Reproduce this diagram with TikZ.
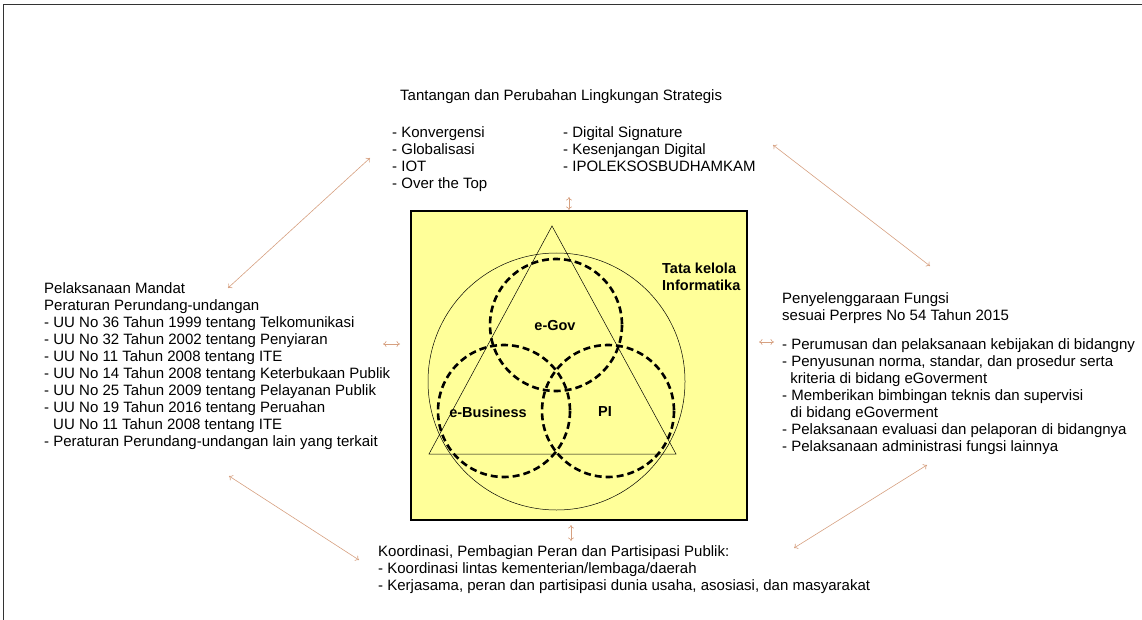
\documentclass[tikz,border=0pt]{standalone}
\usepackage{fontspec}
\setmainfont{Liberation Sans}
\usetikzlibrary{positioning,arrows.meta}
\definecolor{panel}{RGB}{255,255,153}
\definecolor{linkc}{RGB}{214,160,128}

\begin{document}
\begin{tikzpicture}[x=1pt, y=-1pt,
        txt/.style={align=left, inner sep=0pt, anchor=north west, font=\fontsize{15}{17}\selectfont},
        tag/.style={inner sep=0pt, font=\fontsize{14.5}{17}\selectfont\bfseries},
        venn/.style={draw, line width=2.6pt, dash pattern=on 7pt off 4pt},
        link/.style={{To[length=3.5pt,width=6pt]}-{To[length=3.5pt,width=6pt]}, draw=linkc, line width=0.6pt}
    ]
    \useasboundingbox (0,0) rectangle (1142,620);
    \draw[line width=1pt, black!80] (3,620) -- (3,5) -- (1142,5);

    % centre panel
    \node[draw, line width=1.2pt, fill=panel, minimum width=336pt, minimum height=309pt, inner sep=0pt] (box) at (579,365.5) {};
    \draw[line width=0.5pt] (552,226) -- (676,454) -- (429,454) -- cycle;
    \draw[line width=0.5pt] (556.5,381.5) circle (128.5);
    \draw[venn] (556,325) circle (66);
    \draw[venn] (504,411) circle (66);
    \draw[venn] (608,411) circle (66);
    \node[tag] (gov) at (555,326) {e-Gov};
    \node[tag] (bis) at (488,412) {e-Business};
    \node[tag] (pi) at (605,412) {PI};
    \node[tag, align=left, anchor=north west] (tata) at (662,263) {Tata kelola\\Informatika};

    % surrounding texts
    \node[txt] (tantangan) at (400,89) {Tantangan dan Perubahan Lingkungan Strategis};
    \node[txt] (isuA) at (392,126) {- Konvergensi\\- Globalisasi\\- IOT\\- Over the Top};
    \node[txt] (isuB) at (563,126) {- Digital Signature\\- Kesenjangan Digital\\- IPOLEKSOSBUDHAMKAM};
    \node[txt] (mandat) at (44,282) {Pelaksanaan Mandat\\Peraturan Perundang-undangan\\- UU No 36 Tahun 1999 tentang Telkomunikasi\\- UU No 32 Tahun 2002 tentang Penyiaran\\- UU No 11 Tahun 2008 tentang ITE\\- UU No 14 Tahun 2008 tentang Keterbukaan Publik\\- UU No 25 Tahun 2009 tentang Pelayanan Publik\\- UU No 19 Tahun 2016 tentang Peruahan\\\hspace*{0.6em}UU No 11 Tahun 2008 tentang ITE\\- Peraturan Perundang-undangan lain yang terkait};
    \node[txt] (fungsi) at (782,292) {Penyelenggaraan Fungsi\\sesuai Perpres No 54 Tahun 2015};
    \node[txt] (fungsilist) at (782,338) {- Perumusan dan pelaksanaan kebijakan di bidangny\\- Penyusunan norma, standar, dan prosedur serta\\\hspace*{0.55em}kriteria di bidang eGoverment\\- Memberikan bimbingan teknis dan supervisi\\\hspace*{0.55em}di bidang eGoverment\\- Pelaksanaan evaluasi dan pelaporan di bidangnya\\- Pelaksanaan administrasi fungsi lainnya};
    \node[txt] (koord) at (378,545) {Koordinasi, Pembagian Peran dan Partisipasi Publik:\\- Koordinasi lintas kementerian/lembaga/daerah\\- Kerjasama, peran dan partisipasi dunia usaha, asosiasi, dan masyarakat};

    % connectors
    \coordinate (upA) at (569,197);   \coordinate (upB) at (569,210);
    \coordinate (dnA) at (571,525);   \coordinate (dnB) at (571,541);
    \coordinate (lfA) at (383,344);   \coordinate (lfB) at (400,344);
    \coordinate (rtA) at (759,342);   \coordinate (rtB) at (774,342);
    \coordinate (tlA) at (370,158);   \coordinate (tlB) at (228,288);
    \coordinate (trA) at (773,145);   \coordinate (trB) at (930,266);
    \coordinate (blA) at (229,476);   \coordinate (blB) at (359,560);
    \coordinate (brA) at (927,465);   \coordinate (brB) at (794,548);
    \draw[link] (upA) -- (upB);
    \draw[link] (dnA) -- (dnB);
    \draw[link] (lfA) -- (lfB);
    \draw[link] (rtA) -- (rtB);
    \draw[link] (tlA) -- (tlB);
    \draw[link] (trA) -- (trB);
    \draw[link] (blA) -- (blB);
    \draw[link] (brA) -- (brB);
\end{tikzpicture}
\end{document}
